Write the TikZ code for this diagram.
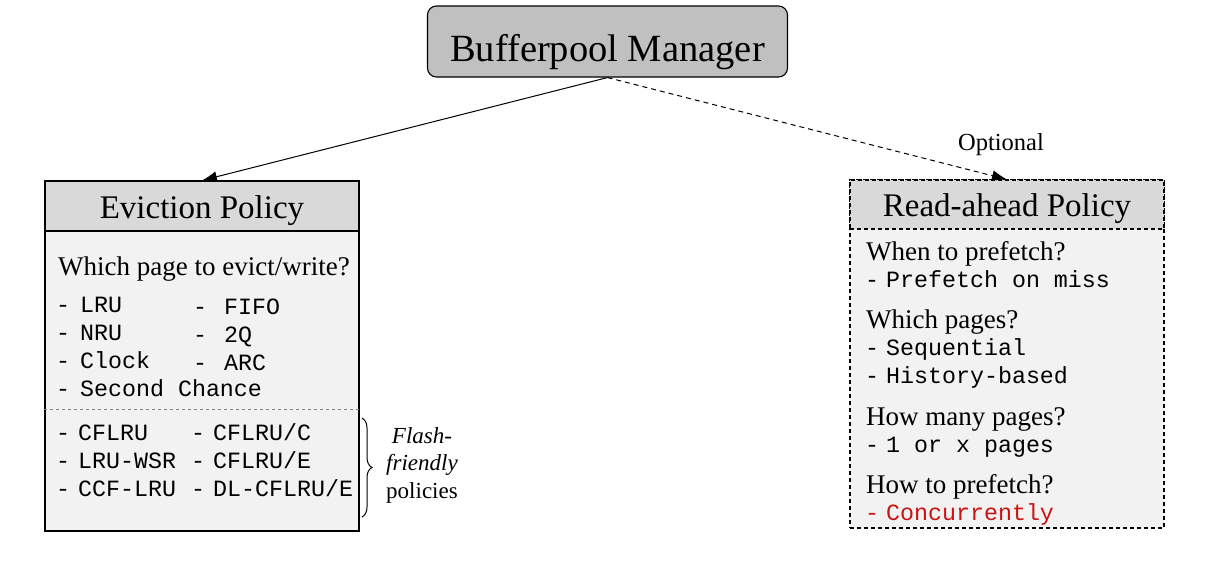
\documentclass[tikz,border=0pt]{standalone}
\usepackage{fontspec}
\setmainfont{Liberation Serif}
\setmonofont{Liberation Mono}
\usetikzlibrary{arrows.meta,decorations.pathreplacing}
\definecolor{hdr}{HTML}{D9D9D9}
\definecolor{bdy}{HTML}{F2F2F2}
\definecolor{mgr}{HTML}{C0C0C0}
\definecolor{redtxt}{HTML}{CC1111}
\newcommand{\ditem}[2]{\makebox[#1][l]{-}#2}
\begin{document}
\begin{tikzpicture}[x=1pt,y=-1pt,
  boxframe/.style={draw, line width=1.1pt, inner sep=0pt, minimum width=314pt},
  monotxt/.style={font=\fontsize{23.3}{28}\selectfont\ttfamily, inner sep=0pt, anchor=base west},
  subtxt/.style={font=\fontsize{27}{31}\selectfont, inner sep=0pt, anchor=base west},
  titletxt/.style={font=\fontsize{33}{38}\selectfont, inner sep=0pt, anchor=base},
  sidetxt/.style={font=\fontsize{23}{27}\selectfont, inner sep=0pt, anchor=base},
  conn/.style={line width=1pt, -{Latex[length=15pt,width=11pt]}}
]
\useasboundingbox (0,0) rectangle (1224,562);

% Manager
\node[draw, line width=1.1pt, rounded corners=9pt, fill=mgr, minimum width=360pt, minimum height=71pt, inner sep=0pt] (bpm) at (607.5,41.5) {};
\node[font=\fontsize{38.5}{44}\selectfont, inner sep=0pt, anchor=base] (bpmt) at (607.5,61) {Bufferpool Manager};

% Eviction policy
\node[boxframe, fill=bdy, minimum height=350pt] (ev) at (202,356) {};
\node[boxframe, fill=hdr, minimum height=50pt] (evh) at (202,206) {};
\node[titletxt] (evt) at (202,218) {Eviction Policy};
\draw[gray, dashed, line width=0.8pt] (ev.west |- 0,409) coordinate (sepl) -- (ev.east |- 0,409) coordinate (sepr);
\node[subtxt] (q1) at (58,275) {Which page to evict/write?};
\node[monotxt] (e1) at (56,312) {\ditem{24pt}{LRU}};
\node[monotxt] (e2) at (56,340) {\ditem{24pt}{NRU}};
\node[monotxt] (e3) at (56,368) {\ditem{24pt}{Clock}};
\node[monotxt] (e4) at (56,396) {\ditem{24pt}{Second Chance}};
\node[monotxt] (e5) at (193,314) {\ditem{31pt}{FIFO}};
\node[monotxt] (e6) at (193,342) {\ditem{31pt}{2Q}};
\node[monotxt] (e7) at (193,370) {\ditem{31pt}{ARC}};
\node[monotxt] (f1) at (56,440) {\ditem{22pt}{CFLRU}};
\node[monotxt] (f2) at (56,468) {\ditem{22pt}{LRU-WSR}};
\node[monotxt] (f3) at (56,496) {\ditem{22pt}{CCF-LRU}};
\node[monotxt] (f4) at (191,440) {\ditem{22pt}{CFLRU/C}};
\node[monotxt] (f5) at (191,468) {\ditem{22pt}{CFLRU/E}};
\node[monotxt] (f6) at (191,496) {\ditem{22pt}{DL-CFLRU/E}};

% brace
\coordinate (bt) at (362,418);
\coordinate (bb) at (362,517);
\draw[line width=1pt, decorate, decoration={brace, amplitude=10pt}] (bt) -- (bb);
\node[sidetxt, font=\fontsize{23}{27}\selectfont\itshape] (fl1) at (422,443) {Flash-};
\node[sidetxt, font=\fontsize{23}{27}\selectfont\itshape] (fl2) at (422,470) {friendly};
\node[sidetxt] (fl3) at (422,498) {policies};

% Read-ahead policy
\node[boxframe, dashed, dash pattern=on 4pt off 3pt, fill=bdy, minimum height=348pt] (ra) at (1007,354) {};
\node[boxframe, dashed, dash pattern=on 4pt off 3pt, fill=hdr, minimum height=49pt] (rah) at (1007,204.5) {};
\node[titletxt] (rat) at (1007,216) {Read-ahead Policy};
\node[subtxt] (r1) at (866,260) {When to prefetch?};
\node[monotxt] (r2) at (865,287) {\ditem{21pt}{Prefetch on miss}};
\node[subtxt] (r3) at (866,328) {Which pages?};
\node[monotxt] (r4) at (865,355) {\ditem{21pt}{Sequential}};
\node[monotxt] (r5) at (865,383) {\ditem{21pt}{History-based}};
\node[subtxt] (r6) at (866,425) {How many pages?};
\node[monotxt] (r7) at (865,452) {\ditem{21pt}{1 or x pages}};
\node[subtxt] (r8) at (866,493) {How to prefetch?};
\node[monotxt, text=redtxt] (r9) at (865,520) {\ditem{21pt}{Concurrently}};

% connectors
\draw[conn] (bpm.south) -- (evh.north);
\draw[conn, dashed, dash pattern=on 5pt off 4pt] (bpm.south) -- (rah.north);
\node[sidetxt, font=\fontsize{24.5}{28}\selectfont] (opt) at (1001,150) {Optional};
\end{tikzpicture}
\end{document}
